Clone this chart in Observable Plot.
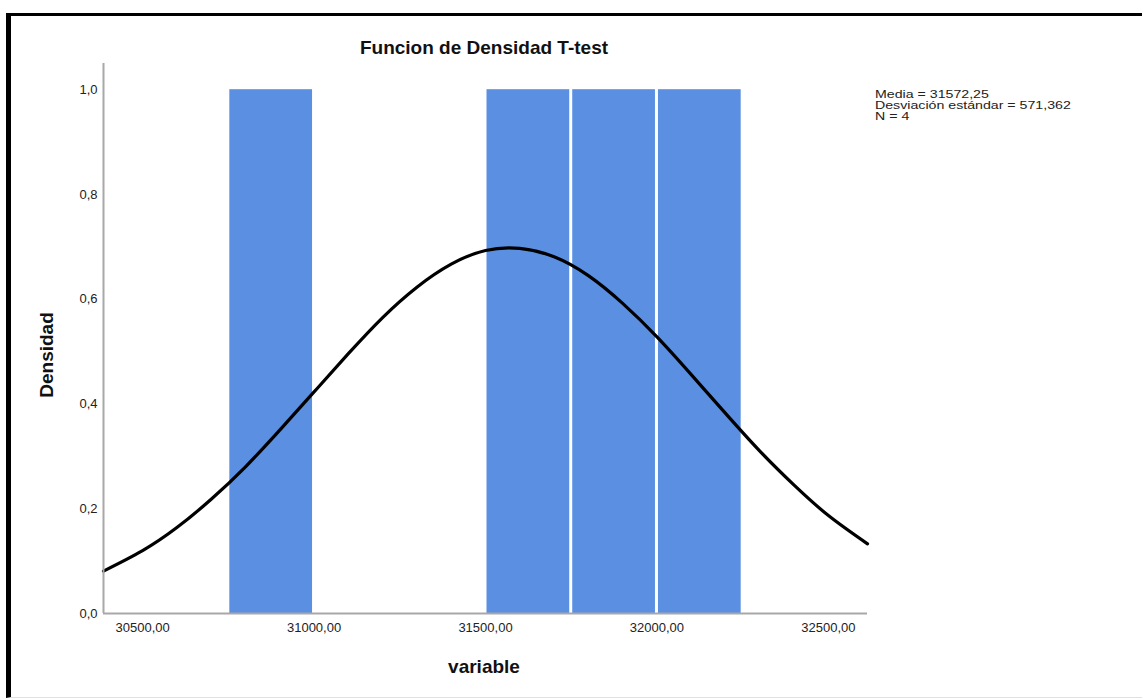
<!DOCTYPE html>
<html>
<head>
<meta charset="utf-8">
<script src="https://cdn.jsdelivr.net/npm/d3@7"></script>
<script src="https://cdn.jsdelivr.net/npm/@observablehq/plot@0.6"></script>
<style>
  html, body { margin: 0; padding: 0; background: #fff; }
  #wrap { position: relative; width: 1142px; height: 700px; background: #fff; overflow: hidden; font-family: "Liberation Sans", Arial, sans-serif; }
  #frame { position: absolute; left: 6px; top: 13px; right: -2px; bottom: 2px; border-top: 3px solid #000; border-left: 5px solid #000; border-bottom: 1px solid #e0e0e0; box-sizing: border-box; }
  #chart { position: absolute; left: 0; top: 0; }
  .lbl { position: absolute; font-weight: bold; font-size: 19px; color: #111; white-space: nowrap; }
  #title { left: 484px; top: 37px; transform: translateX(-50%); }
  #xlabel { left: 484px; top: 656px; transform: translateX(-50%); }
  #ylabel { left: 47px; top: 355px; transform: translate(-50%, -50%) rotate(-90deg); }
  #stats { position: absolute; left: 875px; top: 89px; font-size: 10.5px; line-height: 11px; color: #222; transform: scaleX(1.35); transform-origin: left top; white-space: nowrap; }
  #stats div { height: 11px; }
</style>
</head>
<body>
<div id="wrap">
  <div id="frame"></div>
  <div id="chart"></div>
  <div id="title" class="lbl"></div>
  <div id="xlabel" class="lbl"></div>
  <div id="ylabel" class="lbl"></div>
  <div id="stats"></div>
</div>
<script>
// ---- data ----
const titleText = "Funcion de Densidad T-test";
const xLabel = "variable";
const yLabel = "Densidad";
const statsLines = ["Media = 31572,25", "Desviación estándar = 571,362", "N = 4"];

const binStart = [30750, 31500, 31750, 32000];
const binEnd   = [31000, 31750, 32000, 32250];
const counts   = [1.0, 1.0, 1.0, 1.0];

// normal curve
const curveX = [30386, 30500, 30600, 30700, 30800, 30900, 31000, 31100, 31200, 31300, 31400, 31500, 31600, 31700, 31800, 31900, 32000, 32100, 32200, 32300, 32400, 32500, 32614];
const curveY = [0.081, 0.120, 0.164, 0.218, 0.280, 0.350, 0.423, 0.496, 0.565, 0.623, 0.667, 0.693, 0.697, 0.681, 0.645, 0.592, 0.528, 0.456, 0.382, 0.310, 0.245, 0.187, 0.133];

const xTicks = [30500, 31000, 31500, 32000, 32500];
const yTicks = [0.0, 0.2, 0.4, 0.6, 0.8, 1.0];
const xDomain = [30386, 32614];
const yDomain = [0, 1.05];

// ---- build tables ----
const bars = binStart.map((s, i) => ({x1: s, x2: binEnd[i], y: counts[i]}));
const curve = curveX.map((x, i) => ({x, y: curveY[i]}));

const chart = Plot.plot({
  width: 1142,
  height: 700,
  marginLeft: 103,
  marginRight: 275,
  marginTop: 63,
  marginBottom: 87,
  style: {fontFamily: "'Liberation Sans', Arial, sans-serif", fontSize: "13px", color: "#222", background: "transparent"},
  x: {domain: xDomain, ticks: xTicks, tickSize: 0, tickPadding: 9, tickFormat: d => d.toFixed(2).replace(".", ","), label: null},
  y: {domain: yDomain, ticks: yTicks, tickSize: 0, tickPadding: 6, tickFormat: d => d.toFixed(1).replace(".", ","), label: null},
  marks: [
    Plot.rectY(bars, {x1: "x1", x2: "x2", y: "y", fill: "#5a8fe1", insetLeft: 1.5, insetRight: 1.5}),
    Plot.line(curve, {x: "x", y: "y", stroke: "#000", strokeWidth: 3.2, curve: "natural"}),
    Plot.ruleY([0], {x1: xDomain[0], x2: xDomain[1], stroke: "#a8a8a8", strokeWidth: 2}),
    Plot.ruleX([xDomain[0]], {y1: yDomain[0], y2: yDomain[1], stroke: "#a8a8a8", strokeWidth: 2})
  ]
});
document.getElementById("chart").appendChild(chart);
document.getElementById("title").textContent = titleText;
document.getElementById("xlabel").textContent = xLabel;
document.getElementById("ylabel").textContent = yLabel;
document.getElementById("stats").innerHTML = statsLines.map(s => `<div>${s}</div>`).join("");
</script>
</body>
</html>
